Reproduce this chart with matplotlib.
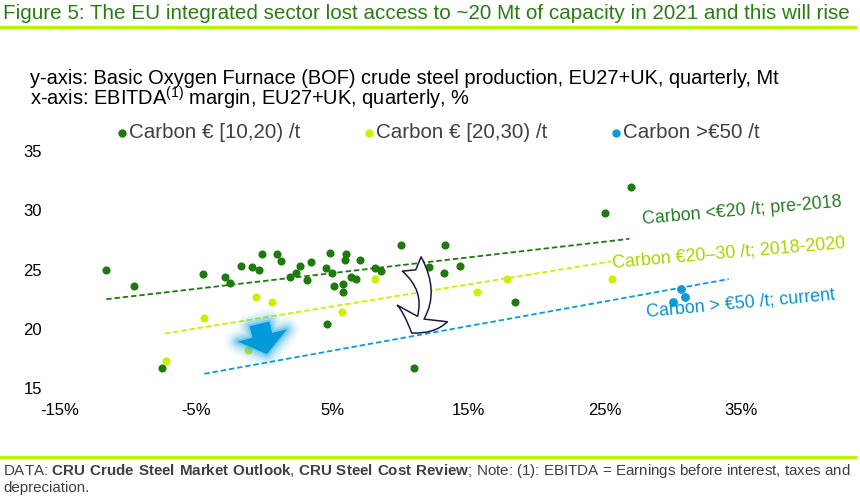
import numpy as np
import matplotlib
matplotlib.use('Agg')
import matplotlib.pyplot as plt
import matplotlib.transforms as mtransforms
import matplotlib.patheffects as pe
from matplotlib.patches import FancyArrow, FancyArrowPatch
from matplotlib.lines import Line2D

plt.rcParams['font.family'] = ['Liberation Sans', 'DejaVu Sans']
plt.rcParams['mathtext.fontset'] = 'custom'
plt.rcParams['mathtext.rm'] = 'Liberation Sans'
plt.rcParams['mathtext.bf'] = 'Liberation Sans:bold'

W, H = 860, 499

# EBITDA margin (%) vs BOF crude steel production (Mt), by carbon price regime
green_x = [-11.6, -9.6, -7.5, -4.5, -2.9, -2.5, -1.7, -0.9, -0.4, -0.2, 0.9, 1.2,
           1.9, 2.3, 2.6, 3.1, 3.4, 4.5, 4.8, 5.0, 5.1, 4.6, 5.8, 5.8, 5.9, 6.0,
           6.4, 6.7, 7.0, 8.1, 8.6, 10.0, 11.0, 12.1, 13.3, 13.2, 14.4, 18.4,
           25.0, 26.9]
green_y = [25.0, 23.6, 16.7, 24.6, 24.4, 23.9, 25.3, 25.2, 25.0, 26.3, 26.3, 25.7,
           24.4, 24.7, 25.3, 24.1, 25.6, 25.1, 26.4, 24.7, 23.6, 20.4, 23.1, 23.8,
           25.8, 26.3, 24.4, 24.2, 25.8, 25.1, 24.9, 27.1, 16.7, 25.2, 27.1, 24.7,
           25.3, 22.3, 29.8, 32.0]

lime_x = [-7.2, -4.4, -0.6, 0.6, -1.2, 5.7, 8.1, 11.6, 15.6, 17.8, 25.5]
lime_y = [17.3, 20.9, 22.7, 22.3, 18.2, 21.4, 24.2, 24.9, 23.1, 24.2, 24.2]

blue_x = [30.6, 30.9, 30.0]
blue_y = [23.4, 22.7, 22.3]

legend_labels = ['Carbon € [10,20) /t', 'Carbon € [20,30) /t', 'Carbon >€50 /t']

# fitted trend lines, start/end points
trend_x0 = [-11.6, -7.3, -4.4]
trend_x1 = [26.8, 25.5, 34.1]
trend_y0 = [22.5, 19.6, 16.2]
trend_y1 = [27.6, 25.7, 24.2]
trend_labels = ['Carbon <€20 /t; pre-2018', 'Carbon €20–30 /t; 2018-2020',
                'Carbon > €50 /t; current']

x_ticks = [-15, -5, 5, 15, 25, 35]
y_ticks = [15, 20, 25, 30, 35]

C_DARK = '#1d7a0c'
C_LIME = '#c6f200'
C_BLUE = '#0a9ad9'
TXT_COLORS = ['#2a7a2a', '#aad400', '#0a90d0']
RULE = '#b8f500'
GREY = '#404040'

fig = plt.figure(figsize=(W / 100, H / 100), dpi=100)
pix = mtransforms.Affine2D().scale(1, -1).translate(0, H)  # pixel coords, origin top-left

ax = fig.add_axes([60 / W, 1 - 388 / H, (741 - 60) / W, (388 - 151.2) / H])
ax.set_xlim(-15, 35)
ax.set_ylim(15, 35)
for s in ax.spines.values():
    s.set_visible(False)
ax.set_xticks(x_ticks, [f'{v}%' for v in x_ticks])
ax.set_yticks(y_ticks, [str(v) for v in y_ticks])
ax.tick_params(axis='both', length=0, labelsize=12, colors='black')
ax.tick_params(axis='y', pad=13)
ax.tick_params(axis='x', pad=11)

colors = [C_DARK, C_LIME, C_BLUE]
for x0, x1, y0, y1, c in zip(trend_x0, trend_x1, trend_y0, trend_y1, colors):
    ax.plot([x0, x1], [y0, y1], color=c, lw=1.3, ls=(0, (3, 1.6)), zorder=2)

ax.scatter(green_x, green_y, s=34, color=C_DARK, linewidths=0, zorder=3)
ax.scatter(lime_x, lime_y, s=34, color=C_LIME, linewidths=0, zorder=3)
ax.scatter(blue_x, blue_y, s=40, color=C_BLUE, linewidths=0, zorder=3)

# trend labels (rotated along the lines)
lab_pos = [(643, 224, 5.0), (613, 268, 4.9), (647, 317, 5.25)]
for (x, y, rot), s, c in zip(lab_pos, trend_labels, TXT_COLORS):
    fig.text(x, y, s, transform=pix, color=c, fontsize=12.9, rotation=rot,
             rotation_mode='anchor', ha='left', va='baseline')

# glowing blue block arrow
blk = FancyArrow(259.5, 324, 7.4, 30, width=20, head_width=50, head_length=19,
                 length_includes_head=True, transform=pix, color='#0099da',
                 lw=0, zorder=5)
glow = []
for w, a in [(18, 0.08), (14, 0.11), (10, 0.16), (6.5, 0.24), (3, 0.4)]:
    glow.append(pe.Stroke(linewidth=w, foreground='#35b0ea', alpha=a,
                          joinstyle='round'))
glow.append(pe.Normal())
blk.set_path_effects(glow)
fig.add_artist(blk)

# curved outline arrow
curv = FancyArrowPatch(posA=(411.7, 264), posB=(411.7, 333), transform=pix,
                       connectionstyle='arc3,rad=-0.38',
                       arrowstyle='fancy,head_length=0.8,head_width=1.9,tail_width=0.85',
                       mutation_scale=20, fc='white', ec='#1c1845', lw=1.1,
                       shrinkA=0, shrinkB=0, zorder=6)
fig.add_artist(curv)

# header
fig.text(3, 19, 'Figure 5: The EU integrated sector lost access to ~20 Mt of capacity in 2021 and this will rise',
         transform=pix, fontsize=14.9, color='#2b7d12', va='baseline')
fig.add_artist(Line2D([0, 855], [26.5, 26.5], transform=pix, color=RULE, lw=2.3))

fig.text(30, 84, 'y-axis: Basic Oxygen Furnace (BOF) crude steel production, EU27+UK, quarterly, Mt',
         transform=pix, fontsize=14.4, color='black', va='baseline')
fig.text(30, 106, r'x-axis: EBITDA$^{\mathrm{(1)}}$ margin, EU27+UK, quarterly, %',
         transform=pix, fontsize=14.4, color='black', va='baseline')

leg_x = [122, 369, 616]
for x, s, c in zip(leg_x, legend_labels, colors):
    fig.add_artist(Line2D([x], [132.5], transform=pix, marker='o', ms=5,
                          color=c, lw=0))
    fig.text(x + 7, 138, s, transform=pix, fontsize=14.8, color=GREY, va='baseline')

# footer
fig.add_artist(Line2D([0, 855], [457, 457], transform=pix, color=RULE, lw=2.3))
fig.text(3, 475, r'DATA: $\mathbf{CRU\ Crude\ Steel\ Market\ Outlook}$, '
         r'$\mathbf{CRU\ Steel\ Cost\ Review}$; Note: (1): EBITDA = Earnings before interest, taxes and',
         transform=pix, fontsize=10.9, color=GREY, va='baseline')
fig.text(3, 492, 'depreciation.', transform=pix, fontsize=10.9, color=GREY, va='baseline')

fig.savefig('out.png', dpi=100, facecolor='white')
